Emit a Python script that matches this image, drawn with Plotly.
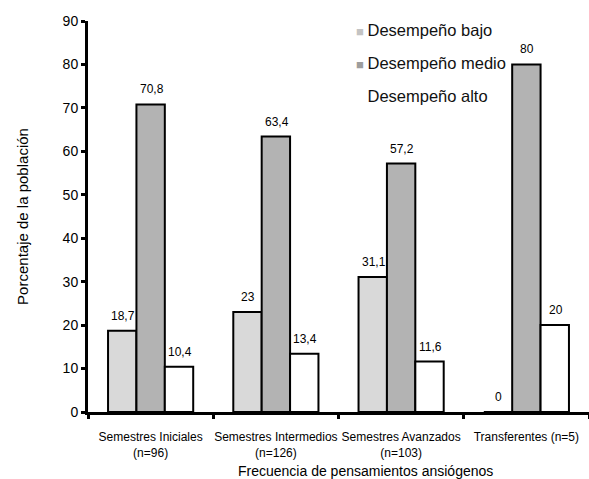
import plotly.graph_objects as go

# Grupos de estudiantes y porcentaje por nivel de desempeño
categorias = [
    "Semestres Iniciales<br>(n=96)",
    "Semestres Intermedios<br>(n=126)",
    "Semestres Avanzados<br>(n=103)",
    "Transferentes (n=5)",
]
desempeno_bajo = [18.7, 23, 31.1, 0]
desempeno_medio = [70.8, 63.4, 57.2, 80]
desempeno_alto = [10.4, 13.4, 11.6, 20]

series = [
    ("Desempeño bajo", desempeno_bajo, "#d9d9d9", "#c3c3c3"),
    ("Desempeño medio", desempeno_medio, "#b3b3b3", "#9d9d9d"),
    ("Desempeño alto", desempeno_alto, "#ffffff", "#ffffff"),
]

W, H = 589, 479
M_L, M_R, M_T, M_B = 88, 0, 21, 67
BARGAP = 0.32
FONT = "Arial, Liberation Sans, sans-serif"
PLOT_H = H - M_T - M_B

fig = go.Figure()

for nombre, valores, relleno, _ in series:
    fig.add_trace(go.Bar(
        x=categorias, y=valores, name=nombre,
        marker=dict(color=relleno, line=dict(color="black", width=2)),
        showlegend=False,
    ))

# Entradas de la leyenda: cuadrado pequeño pegado al texto
for i, (nombre, _, _, color_ley) in enumerate(series):
    fig.add_trace(go.Scatter(
        x=[None], y=[None], mode="markers",
        name=f'<span style="color:{color_ley};font-size:13px">■ </span>{nombre}',
        marker=dict(size=1, color="rgba(0,0,0,0)",
                    line=dict(width=0, color="rgba(0,0,0,0)")),
        legendgroup=f"g{i}",
    ))

# Etiquetas de valor sobre cada barra
ancho_cat = (W - M_L - M_R) / len(categorias)
ancho_barra = ancho_cat * (1 - BARGAP) / len(series)
for j, (_, valores, _, _) in enumerate(series):
    desplaz = (j - 1) * ancho_barra
    for cat, v in zip(categorias, valores):
        fig.add_annotation(
            x=cat, y=v, text=f"{v:g}".replace(".", ","),
            showarrow=False, xshift=desplaz + 1, yshift=15,
            font=dict(family=FONT, size=12, color="black"),
        )

# Título del eje horizontal
fig.add_annotation(
    xref="paper", yref="paper", x=(365 - M_L) / (W - M_L - M_R), y=0,
    yshift=-69, text="Frecuencia de pensamientos ansiógenos",
    showarrow=False, font=dict(family=FONT, size=14, color="black"),
)

fig.update_layout(
    width=W, height=H,
    margin=dict(l=M_L, r=M_R, t=M_T, b=M_B),
    paper_bgcolor="white", plot_bgcolor="white",
    barmode="group", bargap=BARGAP, bargroupgap=0,
    font=dict(family=FONT, color="black"),
    legend=dict(
        x=(316 - M_L) / (W - M_L - M_R), y=1 + 9 / PLOT_H,
        yanchor="top", xanchor="left",
        font=dict(family=FONT, size=16.5, color="#111111"),
        bgcolor="rgba(0,0,0,0)", traceorder="grouped", tracegroupgap=8.5,
        itemwidth=30,
    ),
    xaxis=dict(
        showline=True, linecolor="black", linewidth=3,
        ticks="outside", tickson="boundaries", ticklen=4, tickwidth=3,
        tickcolor="black", tickfont=dict(family=FONT, size=12),
        tickangle=0, automargin=False, ticklabelstandoff=12,
        showgrid=False, zeroline=False,
    ),
    yaxis=dict(
        range=[0, 90], dtick=10, showline=True, linecolor="black",
        linewidth=3, ticks="outside", ticklen=4, tickwidth=3,
        tickcolor="black", tickfont=dict(family=FONT, size=14),
        automargin=False, showgrid=False, zeroline=False,
        title=dict(text="Porcentaje de la población",
                   font=dict(family=FONT, size=15), standoff=31),
    ),
)

fig.write_html("out.html")
